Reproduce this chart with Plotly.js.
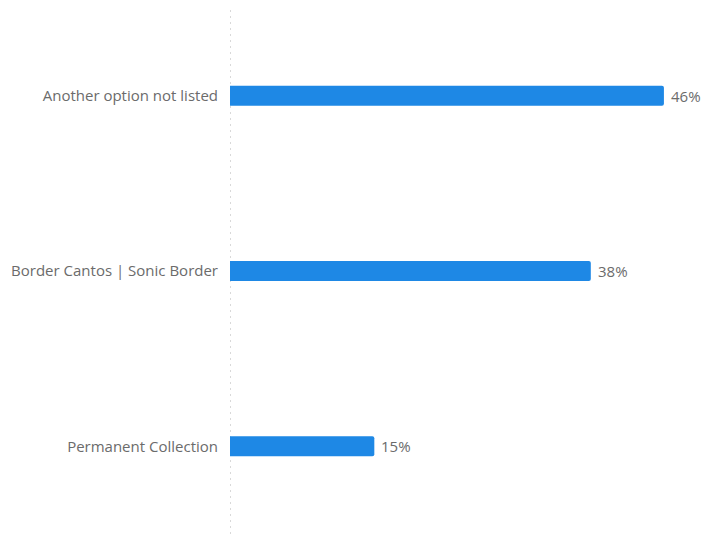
<!DOCTYPE html>
<html>
<head>
<meta charset="utf-8">
<script src="https://cdn.plot.ly/plotly-3.0.1.min.js"></script>
<style>html,body{margin:0;padding:0;background:#fff;}#chart{width:701px;height:534px;}</style>
</head>
<body>
<div id="chart"></div>
<script>
var categories = ["Another option not listed", "Border Cantos | Sonic Border", "Permanent Collection"];
var values = [45.7, 38.0, 15.2];
var valueLabels = ["46%", "38%", "15%"];

var trace = {
  type: "bar",
  orientation: "h",
  y: categories,
  x: values,
  marker: {color: "#1e88e5", cornerradius: 2},
  width: 0.114,
  hoverinfo: "none"
};

var annotations = categories.map(function (c, i) {
  return {x: values[i], y: c, xref: "x", yref: "y", text: valueLabels[i],
          showarrow: false, xanchor: "left", yanchor: "middle", xshift: 5,
          font: {family: "Open Sans", size: 15, color: "#6b6b6b"}};
});

var layout = {
  width: 701,
  height: 534,
  margin: {l: 230, r: 1, t: 8, b: 0, pad: 0},
  paper_bgcolor: "#ffffff",
  plot_bgcolor: "#ffffff",
  showlegend: false,
  font: {family: "Open Sans", size: 15, color: "#6b6b6b"},
  xaxis: {range: [0, 49.5], showgrid: false, zeroline: false, showticklabels: false, showline: false, fixedrange: true},
  yaxis: {autorange: "reversed", showgrid: false, zeroline: false, showline: false,
          ticks: "outside", ticklen: 8, tickcolor: "rgba(0,0,0,0)",
          tickfont: {family: "Open Sans", size: 15, color: "#6b6b6b"}, fixedrange: true},
  annotations: annotations,
  shapes: [{type: "line", xref: "x", yref: "paper", x0: 0, x1: 0, y0: 0, y1: 1,
            line: {color: "#d9d9d9", width: 2, dash: "2px,4px"}, layer: "below"}]
};

Plotly.newPlot("chart", [trace], layout, {displayModeBar: false, staticPlot: true});
</script>
</body>
</html>
